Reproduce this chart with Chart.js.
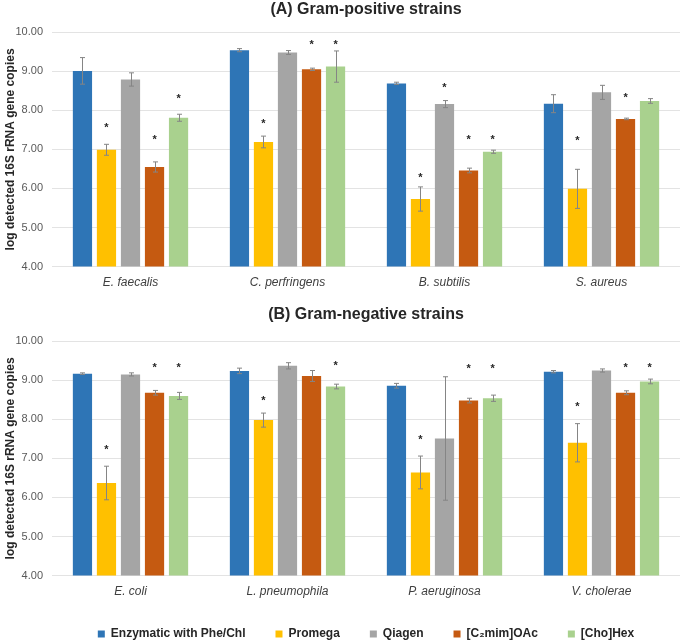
<!DOCTYPE html>
<html>
<head>
<meta charset="utf-8">
<script src="https://cdn.jsdelivr.net/npm/chart.js@4.4.1/dist/chart.umd.min.js"></script>
<style>
  html, body { margin: 0; padding: 0; background: #fff; overflow: hidden; }
  .panel { position: relative; width: 685px; }
  #panelA { height: 300px; }
  #panelB { height: 350px; }
</style>
</head>
<body>
<div class="panel" id="panelA"><canvas id="chartA"></canvas></div>
<div class="panel" id="panelB"><canvas id="chartB"></canvas></div>
<script>
// Categories
const strainsA = ['E. faecalis', 'C. perfringens', 'B. subtilis', 'S. aureus'];
const strainsB = ['E. coli', 'L. pneumophila', 'P. aeruginosa', 'V. cholerae'];
const methods = ['Enzymatic with Phe/Chl', 'Promega', 'Qiagen', '[C\u2082mim]OAc', '[Cho]Hex'];
const colors = ['#2E75B6', '#FFC000', '#A5A5A5', '#C55A11', '#A9D18E'];
const yTicks = [4, 5, 6, 7, 8, 9, 10];

// (A) Gram-positive: means
const enzymaticA = [9.01, 9.54, 8.69, 8.17];
const promegaA   = [6.99, 7.19, 5.73, 5.99];
const qiagenA    = [8.79, 9.48, 8.16, 8.46];
const c2mimA     = [6.55, 9.05, 6.46, 7.78];
const chohexA    = [7.81, 9.12, 6.94, 8.24];
// (A) error bars
const enzymaticErrA = [0.34, 0.04, 0.03, 0.23];
const promegaErrA   = [0.14, 0.15, 0.31, 0.50];
const qiagenErrA    = [0.17, 0.05, 0.09, 0.18];
const c2mimErrA     = [0.13, 0.03, 0.06, 0.02];
const chohexErrA    = [0.09, 0.40, 0.04, 0.06];
// (A) asterisk heights (null = no mark)
const enzymaticStarA = [null, null, null, null];
const promegaStarA   = [7.63, 7.72, 6.35, 7.30];
const qiagenStarA    = [null, null, 8.64, null];
const c2mimStarA     = [7.33, 9.76, 7.32, 8.38];
const chohexStarA    = [8.36, 9.76, 7.32, null];

// (B) Gram-negative: means
const enzymaticB = [9.17, 9.24, 8.86, 9.22];
const promegaB   = [6.37, 7.98, 6.64, 7.40];
const qiagenB    = [9.15, 9.37, 7.51, 9.25];
const c2mimB     = [8.68, 9.11, 8.48, 8.68];
const chohexB    = [8.60, 8.84, 8.54, 8.97];
// (B) error bars
const enzymaticErrB = [0.02, 0.07, 0.06, 0.03];
const promegaErrB   = [0.43, 0.18, 0.42, 0.49];
const qiagenErrB    = [0.04, 0.08, 1.58, 0.04];
const c2mimErrB     = [0.06, 0.14, 0.06, 0.05];
const chohexErrB    = [0.09, 0.06, 0.08, 0.06];
// (B) asterisk heights
const enzymaticStarB = [null, null, null, null];
const promegaStarB   = [7.29, 8.54, 7.56, 8.39];
const qiagenStarB    = [null, null, null, null];
const c2mimStarB     = [9.39, null, 9.37, 9.38];
const chohexStarB    = [9.39, 9.43, 9.36, 9.38];

const FONT = "'Liberation Sans', Arial, sans-serif";

// Error bars + significance asterisks
const errorBarPlugin = {
  id: 'errorBars',
  afterDatasetsDraw(chart) {
    const { ctx } = chart;
    const y = chart.scales.y;
    ctx.save();
    ctx.strokeStyle = '#858585';
    ctx.lineWidth = 1;
    ctx.fillStyle = '#262626';
    ctx.font = 'bold 11px ' + FONT;
    ctx.textAlign = 'center';
    ctx.textBaseline = 'alphabetic';
    chart.data.datasets.forEach((ds, i) => {
      const meta = chart.getDatasetMeta(i);
      meta.data.forEach((bar, j) => {
        const v = ds.data[j];
        const e = ds.errors[j];
        const top = y.getPixelForValue(v + e);
        const bot = y.getPixelForValue(v - e);
        const x = Math.round(bar.x) + 0.5;
        ctx.beginPath();
        ctx.moveTo(x, top); ctx.lineTo(x, bot);
        ctx.moveTo(x - 2.5, top); ctx.lineTo(x + 2.5, top);
        ctx.moveTo(x - 2.5, bot); ctx.lineTo(x + 2.5, bot);
        ctx.stroke();
        const s = ds.stars[j];
        if (s != null) ctx.fillText('*', bar.x, y.getPixelForValue(s) + 6);
      });
    });
    ctx.restore();
  }
};

function makeDatasets(values, errors, stars) {
  return methods.map((m, i) => ({
    label: m,
    data: values[i],
    errors: errors[i],
    stars: stars[i],
    backgroundColor: colors[i],
    borderWidth: 0,
    categoryPercentage: 0.765,
    barPercentage: 0.8
  }));
}

function makeOptions(cfg) {
  return {
    responsive: true,
    maintainAspectRatio: false,
    animation: false,
    layout: { padding: { left: 0, right: 5, top: 0, bottom: cfg.bottomPad } },
    plugins: {
      title: {
        display: true,
        text: cfg.title,
        fullSize: false,
        color: '#262626',
        font: { family: FONT, size: 16, weight: 'bold' },
        padding: cfg.titlePadding
      },
      legend: {
        display: cfg.legend,
        position: 'bottom',
        align: 'center',
        fullSize: false,
        labels: {
          boxWidth: 7,
          boxHeight: 7,
          padding: 30,
          color: '#262626',
          font: { family: FONT, size: 12, weight: 'bold' }
        }
      },
      tooltip: { enabled: false }
    },
    scales: {
      x: {
        grid: { display: false, drawTicks: false },
        border: { display: false },
        afterFit: s => { s.height -= cfg.xShrink; },
        ticks: {
          color: '#404040',
          padding: cfg.xPad,
          font: { family: FONT, size: 12, style: 'italic' }
        }
      },
      y: {
        min: 4,
        max: 10,
        afterBuildTicks: s => { s.ticks = yTicks.map(v => ({ value: v })); },
        afterFit: s => { s.width = 52; },
        grid: { color: '#e3e3e3', drawTicks: false },
        border: { display: false },
        ticks: {
          color: '#595959',
          padding: 9,
          font: { family: FONT, size: 11 },
          callback: v => Number(v).toFixed(2)
        },
        title: {
          display: true,
          text: 'log detected 16S rRNA gene copies',
          color: '#262626',
          padding: { top: 3, bottom: 0 },
          font: { family: FONT, size: 12, weight: 'bold' }
        }
      }
    }
  };
}

new Chart(document.getElementById('chartA'), {
  type: 'bar',
  data: {
    labels: strainsA,
    datasets: makeDatasets(
      [enzymaticA, promegaA, qiagenA, c2mimA, chohexA],
      [enzymaticErrA, promegaErrA, qiagenErrA, c2mimErrA, chohexErrA],
      [enzymaticStarA, promegaStarA, qiagenStarA, c2mimStarA, chohexStarA]
    )
  },
  options: makeOptions({
    title: '(A) Gram-positive strains',
    titlePadding: { top: 0, bottom: 13 },
    legend: false,
    bottomPad: 1,
    xPad: 9,
    xShrink: 0
  }),
  plugins: [errorBarPlugin]
});

new Chart(document.getElementById('chartB'), {
  type: 'bar',
  data: {
    labels: strainsB,
    datasets: makeDatasets(
      [enzymaticB, promegaB, qiagenB, c2mimB, chohexB],
      [enzymaticErrB, promegaErrB, qiagenErrB, c2mimErrB, chohexErrB],
      [enzymaticStarB, promegaStarB, qiagenStarB, c2mimStarB, chohexStarB]
    )
  },
  options: makeOptions({
    title: '(B) Gram-negative strains',
    titlePadding: { top: 5, bottom: 17 },
    legend: true,
    bottomPad: 0,
    xPad: 9,
    xShrink: 10
  }),
  plugins: [errorBarPlugin]
});
</script>
</body>
</html>
